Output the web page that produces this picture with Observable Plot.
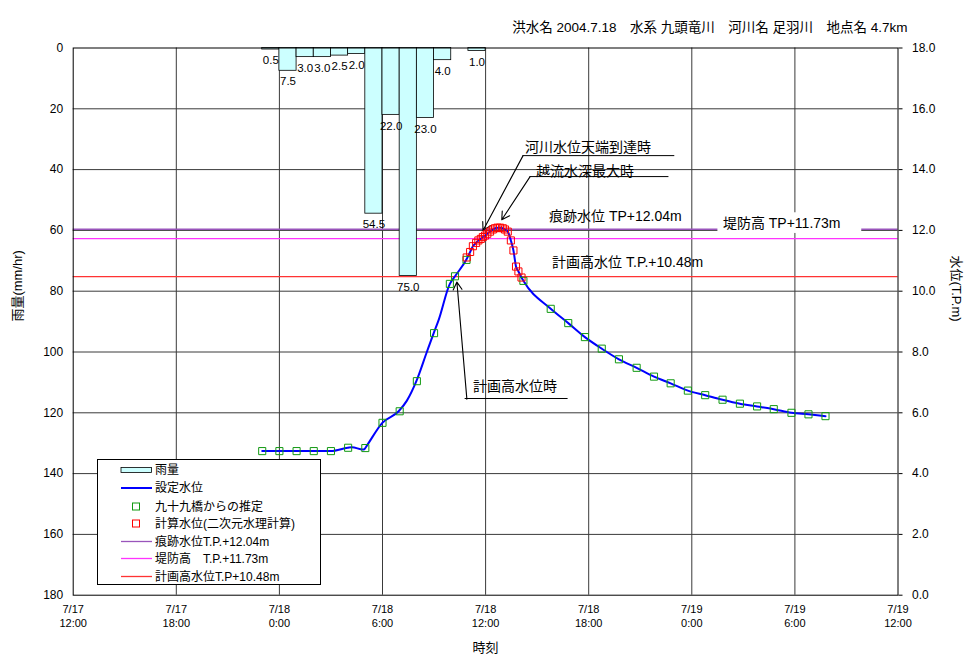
<!DOCTYPE html>
<html><head><meta charset="utf-8">
<script src="https://cdn.jsdelivr.net/npm/d3@7"></script>
<script src="https://cdn.jsdelivr.net/npm/@observablehq/plot@0.6"></script>
<style>
body{margin:0;background:#fff;}
#chart{position:relative;width:967px;height:662px;}
</style></head><body><div id="chart"></div>
<script>
// Time = hours since 2004-07-17 12:00
const tickHours = [0, 6, 12, 18, 24, 30, 36, 42, 48];
const tickLabels = ["7/17\n12:00", "7/17\n18:00", "7/18\n0:00", "7/18\n6:00", "7/18\n12:00", "7/18\n18:00", "7/19\n0:00", "7/19\n6:00", "7/19\n12:00"];
const rainTicks = [0, 20, 40, 60, 80, 100, 120, 140, 160, 180];

// 雨量 (hourly, bar starts at given hour)
const rainHours = [11, 12, 13, 14, 15, 16, 17, 18, 19, 20, 21, 22, 23];
const rainValues = [0.5, 7.5, 3.0, 3.0, 2.5, 2.0, 54.5, 22.0, 75.0, 23.0, 4.0, 0, 1.0];

// 九十九橋からの推定
const estHours = [11, 12, 13, 14, 15, 16, 17, 18, 19, 20, 21, 21.92, 22.22, 22.89, 26.20, 27.79, 28.81, 29.78, 30.76, 31.76, 32.79, 33.80, 34.77, 35.77, 36.78, 37.79, 38.80, 39.80, 40.77, 41.80, 42.79, 43.78];
const estLevels = [4.74, 4.74, 4.74, 4.74, 4.74, 4.85, 4.84, 5.67, 6.05, 7.04, 8.62, 10.24, 10.49, 11.03, 10.34, 9.42, 8.95, 8.49, 8.11, 7.76, 7.48, 7.19, 6.97, 6.73, 6.58, 6.43, 6.30, 6.21, 6.12, 6.00, 5.95, 5.89];

// 計算水位(二次元水理計算)
const calcHours = [22.90, 23.10, 23.26, 23.45, 23.58, 23.72, 23.84, 23.97, 24.10, 24.26, 24.42, 24.55, 24.69, 24.84, 25.00, 25.13, 25.29, 25.47, 25.62, 25.77, 25.91, 26.09];
const calcLevels = [11.11, 11.29, 11.48, 11.59, 11.67, 11.72, 11.78, 11.83, 11.89, 11.96, 12.03, 12.07, 12.09, 12.09, 12.07, 12.03, 11.96, 11.67, 11.34, 10.81, 10.65, 10.45];

// 設定水位
const lineHours = [11, 12, 13, 14, 15, 15.97, 16.22, 16.86, 16.97, 17.09, 17.99, 18.94, 19.42, 19.97, 20.58, 20.98, 21.26, 21.92, 22.22, 22.89, 23.10, 23.26, 23.45, 23.58, 23.72, 23.84, 23.97, 24.10, 24.26, 24.42, 24.55, 24.69, 24.84, 25.00, 25.13, 25.29, 25.47, 25.62, 25.77, 25.91, 26.09, 26.20, 27.79, 28.81, 29.78, 30.76, 31.76, 32.79, 33.80, 34.77, 35.77, 36.78, 37.79, 38.80, 39.80, 40.77, 41.80, 42.79, 43.78];
const lineLevels = [4.74, 4.74, 4.74, 4.74, 4.74, 4.85, 4.87, 4.79, 4.82, 4.92, 5.67, 6.05, 6.40, 7.04, 8.00, 8.62, 9.04, 10.24, 10.49, 11.05, 11.29, 11.48, 11.59, 11.67, 11.72, 11.78, 11.83, 11.89, 11.96, 12.03, 12.07, 12.09, 12.09, 12.07, 12.03, 11.96, 11.67, 11.34, 10.81, 10.65, 10.45, 10.34, 9.42, 8.95, 8.49, 8.11, 7.76, 7.48, 7.19, 6.97, 6.73, 6.58, 6.43, 6.30, 6.21, 6.12, 6.00, 5.95, 5.89];

// reference levels
const refNames = ["痕跡水位T.P.+12.04m", "堤防高　T.P.+11.73m", "計画高水位T.P+10.48m"];
const refLevels = [12.04, 11.73, 10.48];

// annotations (time, level)
const noteTexts = ["河川水位天端到達時", "越流水深最大時", "痕跡水位 TP+12.04m", "堤防高 TP+11.73m", "計画高水位 T.P.+10.48m", "計画高水位時"];
const noteHours = [26.30, 26.94, 27.69, 37.81, 27.87, 23.27];
const noteLevels = [14.74, 13.95, 12.46, 12.23, 10.93, 6.87];
const underlineH1 = [26.18, 26.59, 22.81];
const underlineH2 = [35.01, 34.67, 28.80];
const underlineL = [14.46, 13.77, 6.47];
const arrowH2 = [23.85, 24.94, 22.33];
const arrowL2 = [12.00, 12.35, 10.30];
const arrowH1 = [26.18, 26.59, 22.91];
const arrowL1 = [14.46, 13.77, 6.45];
// white label box behind 堤防高 label
const boxH = [37.52, 45.89];
const boxL = [12.58, 11.90];

const titleText = "洪水名 2004.7.18　水系 九頭竜川　河川名 足羽川　地点名 4.7km";

const lv = L => (18 - L) * 10; // level -> left-axis (rain) coordinate

const rain = rainHours.map((h, i) => ({h, v: rainValues[i]}));
const est = estHours.map((h, i) => ({h, L: estLevels[i]}));
const calc = calcHours.map((h, i) => ({h, L: calcLevels[i]}));
const line = lineHours.map((h, i) => ({h, L: lineLevels[i]}));
const refs = refLevels.map((L, i) => ({L, name: refNames[i]}));
const refColors = ["#9955BB", "#FF33FF", "#FF3333"];
const refWidths = [1.6, 1.3, 1.2];
const notes = noteTexts.map((t, i) => ({t, h: noteHours[i], L: noteLevels[i]}));
const unders = underlineH1.map((h1, i) => ({h1, h2: underlineH2[i], L: underlineL[i]}));
const arrows = arrowH1.map((h1, i) => ({h1, L1: arrowL1[i], h2: arrowH2[i], L2: arrowL2[i]}));

const ff = "'Liberation Sans', Arial, 'Noto Sans CJK JP', sans-serif";

const svg = Plot.plot({
  width: 967, height: 662,
  marginLeft: 72.7, marginRight: 69.5, marginTop: 47.5, marginBottom: 67.3,
  style: {fontFamily: ff, fontSize: "12px", background: "white", color: "#000"},
  x: {domain: [0, 48]},
  y: {domain: [0, 180], reverse: true},
  marks: [
    Plot.gridX(tickHours.slice(1, -1), {stroke: "#3a3a3a", strokeOpacity: 1}),
    Plot.gridY(rainTicks.slice(1, -1), {stroke: "#3a3a3a", strokeOpacity: 1}),
    ...refs.map((r, i) => Plot.ruleY([r], {y: d => lv(d.L), stroke: refColors[i], strokeWidth: refWidths[i]})),
    Plot.rect([{}], {x1: boxH[0], x2: boxH[1], y1: lv(boxL[0]), y2: lv(boxL[1]), fill: "white"}),
    Plot.rect(rain, {x1: "h", x2: d => d.h + 1, y1: 0, y2: "v", fill: "#CCFFFF", stroke: "#000", strokeWidth: 0.8}),
    Plot.text(rain.filter(d => d.v > 0), {x: d => d.h + 0.5, y: "v", text: d => d.v.toFixed(1), dy: 11, fontSize: 11.5}),
    Plot.text(notes, {x: "h", y: d => lv(d.L), text: "t", textAnchor: "start", fontSize: 14}),
    Plot.ruleY(unders, {x1: "h1", x2: "h2", y: d => lv(d.L), stroke: "#000", strokeWidth: 1}),
    Plot.arrow(arrows, {x1: "h1", y1: d => lv(d.L1), x2: "h2", y2: d => lv(d.L2), bend: 0, headLength: 12, stroke: "#000", strokeWidth: 1.1}),
    Plot.line(line, {x: "h", y: d => lv(d.L), curve: "monotone-x", stroke: "#0000FF", strokeWidth: 2}),
    Plot.dot(est, {x: "h", y: d => lv(d.L), symbol: "square", r: 4, stroke: "#119911", fill: "none", strokeWidth: 1}),
    Plot.dot(calc, {x: "h", y: d => lv(d.L), symbol: "square", r: 4, stroke: "#FF0000", fill: "none", strokeWidth: 1}),
    Plot.frame({stroke: "#000"}),
    Plot.axisY(rainTicks, {anchor: "left", tickSize: 0, tickPadding: 10, fontSize: 12, label: null}),
    Plot.axisY(rainTicks, {anchor: "right", tickSize: 4, tickPadding: 10, fontSize: 12, label: null, tickFormat: d => ((180 - d) / 10).toFixed(1)}),
    Plot.axisX(tickHours, {anchor: "bottom", tickSize: 0, tickPadding: 8, fontSize: 11, lineHeight: 1.27, label: null, tickFormat: d => tickLabels[tickHours.indexOf(d)]}),
    Plot.text(["雨量(mm/hr)"], {frameAnchor: "left", dx: -55, rotate: -90, fontSize: 13}),
    Plot.text(["水位(T.P.m)"], {frameAnchor: "right", dx: 58, rotate: 90, fontSize: 13}),
    Plot.text(["時刻"], {frameAnchor: "bottom", dy: 57, fontSize: 13}),
    Plot.text([titleText], {frameAnchor: "top-right", textAnchor: "end", dx: 9.5, dy: -26, fontSize: 13.5})
  ]
});

// legend box
const g = d3.select(svg).append("g").attr("font-family", ff).attr("font-size", 12).attr("text-anchor", "start");
g.append("rect").attr("x", 97.5).attr("y", 459.5).attr("width", 223).attr("height", 125)
  .attr("fill", "white").attr("stroke", "#000");
const legendNames = ["雨量", "設定水位", "九十九橋からの推定", "計算水位(二次元水理計算)", ...refNames];
const rowY = [470, 488, 506.5, 523.5, 541.5, 558.5, 576.5];
legendNames.forEach((name, i) => {
  const y = rowY[i];
  if (i === 0) {
    g.append("rect").attr("x", 121).attr("y", y - 2.5).attr("width", 30.5).attr("height", 5)
      .attr("fill", "#CCFFFF").attr("stroke", "#000").attr("stroke-width", 0.8);
  } else if (i === 1) {
    g.append("line").attr("x1", 121).attr("x2", 152).attr("y1", y).attr("y2", y).attr("stroke", "#0000FF").attr("stroke-width", 2);
  } else if (i === 2 || i === 3) {
    g.append("rect").attr("x", 132.5).attr("y", y - 3.5).attr("width", 7).attr("height", 7)
      .attr("fill", "none").attr("stroke", i === 2 ? "#119911" : "#FF0000");
  } else {
    g.append("line").attr("x1", 121).attr("x2", 152).attr("y1", y).attr("y2", y)
      .attr("stroke", refColors[i - 4]).attr("stroke-width", 1.3);
  }
  g.append("text").attr("x", 155).attr("y", y).attr("dy", "0.35em").attr("text-anchor", "start").attr("fill", "#000").text(name);
});

document.getElementById("chart").appendChild(svg);
</script></body></html>
